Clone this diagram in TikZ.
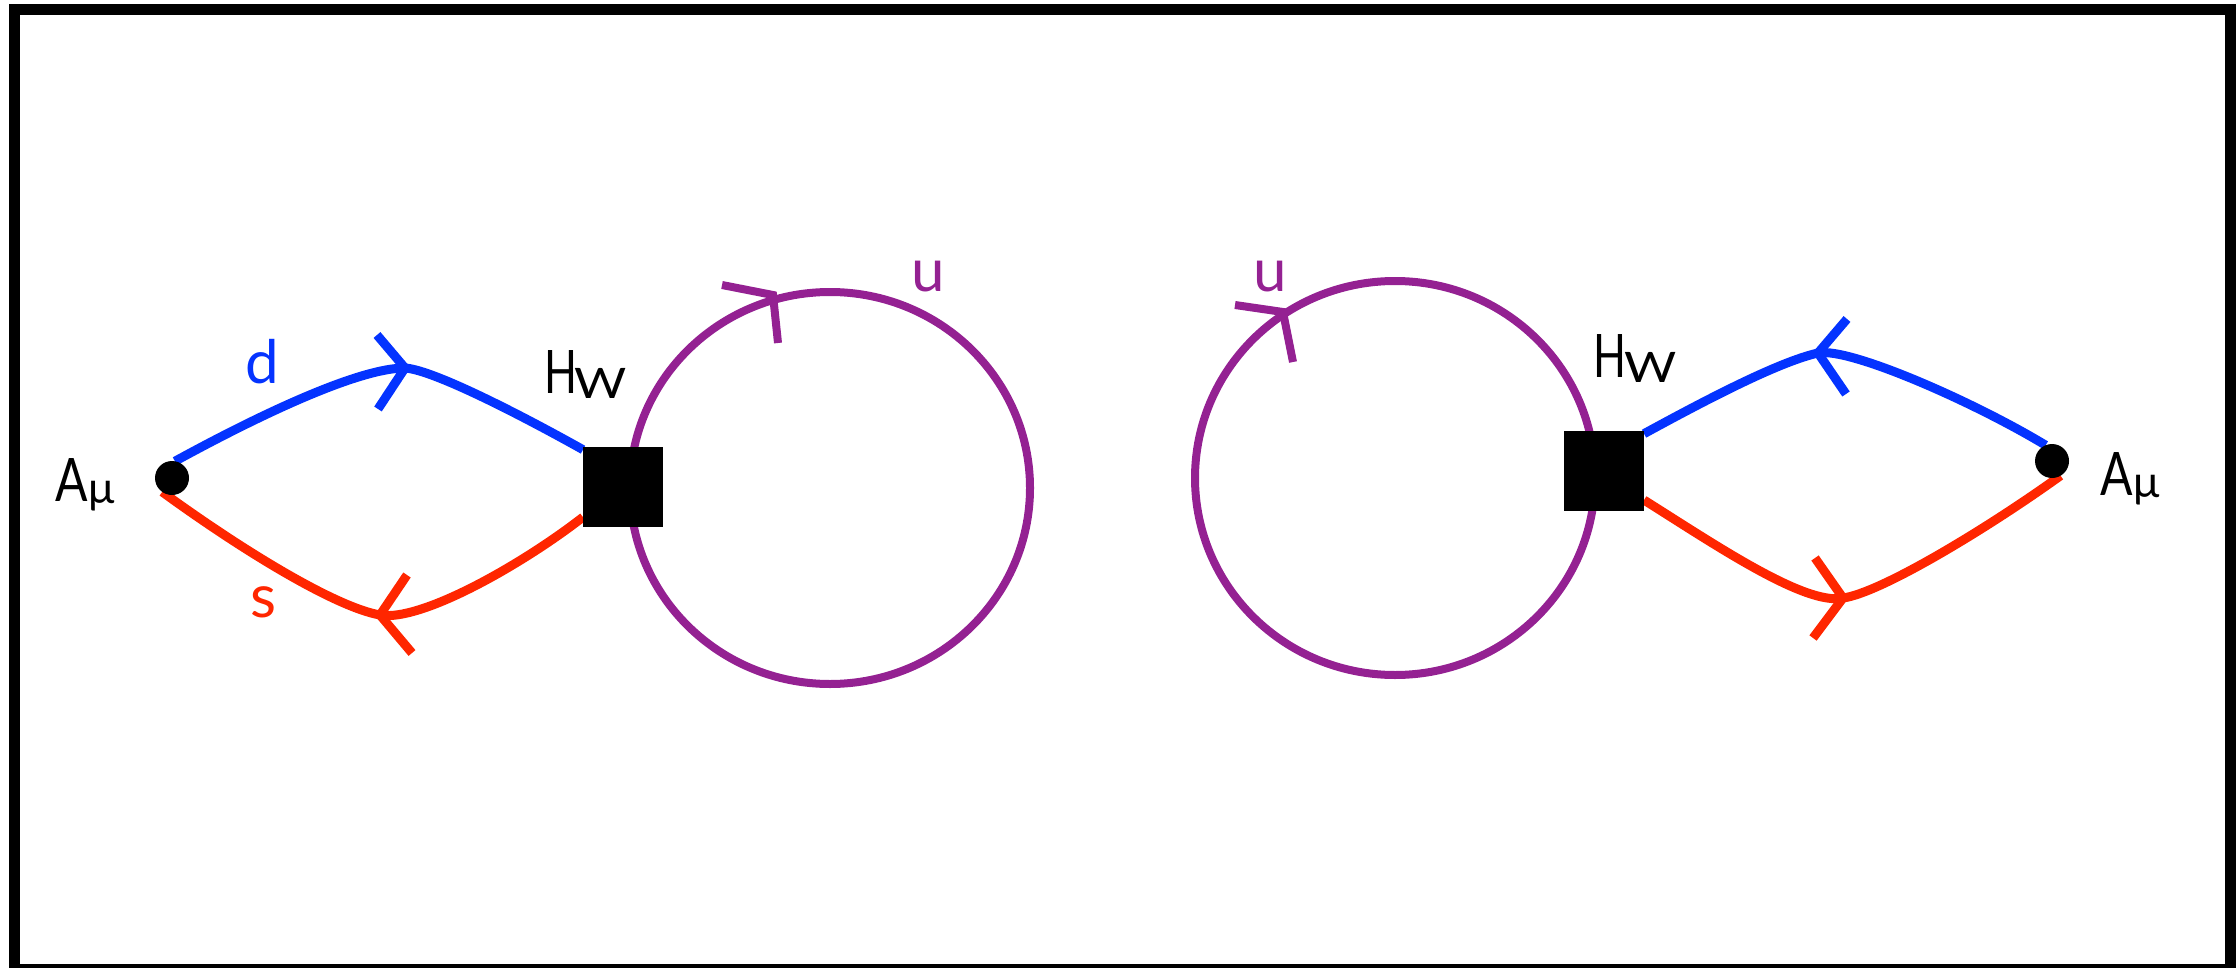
\documentclass[tikz,border=0pt]{standalone}
\usepackage{fontspec}
\setmainfont{Lato}
\usetikzlibrary{calc}
\definecolor{qblue}{HTML}{0433FF}
\definecolor{qred}{HTML}{FF2600}
\definecolor{qplum}{HTML}{942192}
\pgfdeclarelayer{bg}
\pgfsetlayers{bg,main}
\begin{document}
\begin{tikzpicture}[x=0.5pt,y=-0.5pt,
  quark/.style={line width=4.5pt},
  qtick/.style={line width=4.5pt},
  loopline/.style={line width=4pt},
  vdot/.style={circle,fill=black,minimum size=17pt,inner sep=0pt,outer sep=0pt},
  hbox/.style={rectangle,fill=black,minimum size=40pt,inner sep=0pt,outer sep=0pt},
  lbl/.style={inner sep=0pt,outer sep=0pt,anchor=base west,font=\fontsize{30}{36}\selectfont}]
\useasboundingbox (0,0) rectangle (2236,968);
\clip (0,0) rectangle (2236,968);
\draw[line width=5.5pt] (14.5,9.5) rectangle (2230.5,969.5);

% vertices
\node[vdot] (dotL) at (172,478) {};
\node[hbox] (boxL) at (623,487) {};
\node[hbox] (boxR) at (1604,471) {};
\node[vdot] (dotR) at (2052,461) {};
\coordinate (vdL) at (405,368);
\coordinate (vsL) at (380,615);
\coordinate (vuL) at (773,295);
\coordinate (vuR) at (1283,312);
\coordinate (vdR) at (1818,353);
\coordinate (vsR) at (1843,598);
\coordinate (cL) at (830,488);
\coordinate (cR) at (1395,478);

\begin{pgfonlayer}{bg}
% u loops
\draw[loopline,qplum] (cL) ellipse [x radius=100pt, y radius=98pt];
\draw[loopline,qplum] (cR) ellipse [x radius=100pt, y radius=98.5pt];
\draw[loopline,qplum] (vuL) ++(-51,-10) -- (vuL) -- ++(5,48);
\draw[loopline,qplum] (vuR) ++(-48,-7) -- (vuR) -- ++(10,50);
% left propagators
\draw[quark,qblue] (dotL.80) .. controls (265,412) and (360,368) .. (vdL)
  .. controls (435,370) and (530,420) .. (boxL.137);
\draw[quark,qred] (dotL.235) .. controls (242,550) and (335,607) .. (vsL)
  .. controls (420,622) and (520,566) .. (boxL.217);
\draw[qtick,qblue] (vdL) ++(-28,-33) -- (vdL) -- ++(-27,41);
\draw[qtick,qred] (vsL) ++(27,-40) -- (vsL) -- ++(32,38);
% right propagators
\draw[quark,qblue] (boxR.43) .. controls (1704,401) and (1778,362) .. (vdR)
  .. controls (1850,347) and (1976,403) .. (dotR.112);
\draw[quark,qred] (boxR.324) .. controls (1714,544) and (1805,606) .. (vsR)
  .. controls (1880,593) and (1985,530) .. (dotR.300);
\draw[qtick,qblue] (vdR) ++(29,-34) -- (vdR) -- ++(28,41);
\draw[qtick,qred] (vsR) ++(-28,-40) -- (vsR) -- ++(-30,40);
\end{pgfonlayer}

% labels
\node[lbl,qblue] (dlab) at (245,383) {d};
\node[lbl,qred] (slab) at (250,617) {s};
\node[lbl,qplum] (uLlab) at (911,292) {u};
\node[lbl,qplum] (uRlab) at (1253,292) {u};
\node[lbl] (HL) at (544,393) {\scalebox{0.72}[1]{H}\hspace{-1pt}\raisebox{-2.5pt}{\fontsize{21}{21}\selectfont\scalebox{1.2}[1]{W}}};
\node[lbl] (HR) at (1593,377) {\scalebox{0.72}[1]{H}\hspace{-1pt}\raisebox{-2.5pt}{\fontsize{21}{21}\selectfont\scalebox{1.2}[1]{W}}};
\node[lbl] (AL) at (55,501) {\scalebox{0.8}[1]{A}\hspace{0.5pt}\raisebox{-1pt}{\fontsize{22}{22}\selectfont μ}};
\node[lbl] (AR) at (2100,495) {\scalebox{0.8}[1]{A}\hspace{0.5pt}\raisebox{-1pt}{\fontsize{22}{22}\selectfont μ}};
\end{tikzpicture}
\end{document}
